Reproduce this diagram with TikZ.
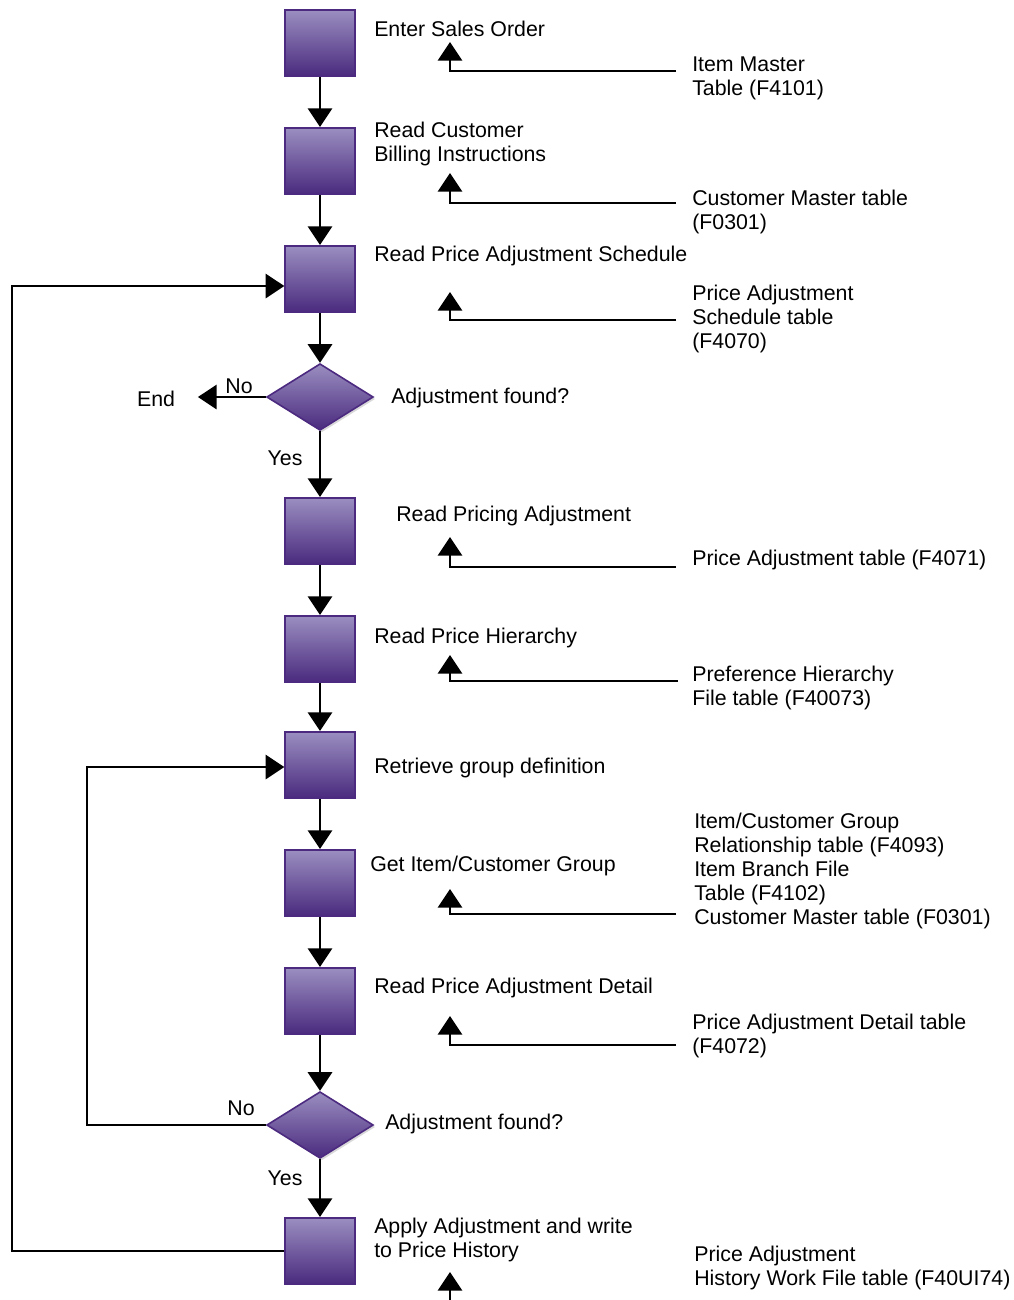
\documentclass[tikz,border=0pt]{standalone}
\usepackage{fontspec}
\setmainfont{Liberation Sans}
\usetikzlibrary{arrows.meta,shapes.geometric,shadows}
\definecolor{boxtop}{HTML}{9A8EC0}
\definecolor{boxbot}{HTML}{4A2A7E}
\definecolor{boxedge}{HTML}{4B2A80}
\begin{document}
\begin{tikzpicture}[x=0.75pt,y=-0.75pt,
  procbox/.style={draw=boxedge, line width=1.5pt, top color=boxtop, bottom color=boxbot,
    minimum width=52pt, minimum height=49.5pt, inner sep=0pt},
  decision/.style={diamond, draw=boxedge, line width=1.2pt, top color=boxtop, bottom color=boxbot,
    minimum width=80pt, minimum height=50pt, inner sep=0pt,
    drop shadow={fill=black!15, opacity=1, shadow xshift=1.5pt, shadow yshift=-1.5pt}},
  lbl/.style={font=\fontsize{16pt}{18pt}\selectfont, anchor=west, align=left, inner sep=0pt},
  small/.style={font=\fontsize{16pt}{18pt}\selectfont, inner sep=0pt},
  flow/.style={line width=2.2pt, -{Triangle[width=18pt,length=14pt]}},
  plain/.style={line width=2.2pt}
]
\useasboundingbox (0,0) rectangle (1014,1300);

% process boxes and decisions
\node[procbox] (b1) at (320,43) {};
\node[procbox] (b2) at (320,161) {};
\node[procbox] (b3) at (320,279) {};
\node[decision] (d1) at (320,397) {};
\node[procbox] (b4) at (320,531) {};
\node[procbox] (b5) at (320,649) {};
\node[procbox] (b6) at (320,765) {};
\node[procbox] (b7) at (320,883) {};
\node[procbox] (b8) at (320,1001) {};
\node[decision] (d2) at (320,1125) {};
\node[procbox] (b9) at (320,1251) {};

% step labels
\node[lbl] (l1) at (374,29) {Enter Sales Order};
\node[lbl] (l2) at (374,144) {Read Customer\\Billing Instructions};
\node[lbl] (l3) at (374,256) {Read Price Adjustment Schedule};
\node[lbl] (l4) at (391,398) {Adjustment found?};
\node[lbl] (l5) at (396,516) {Read Pricing Adjustment};
\node[lbl] (l6) at (374,638) {Read Price Hierarchy};
\node[lbl] (l7) at (374,768) {Retrieve group definition};
\node[lbl] (l8) at (370,866) {Get Item/Customer Group};
\node[lbl] (l9) at (374,988) {Read Price Adjustment Detail};
\node[lbl] (l10) at (385,1124) {Adjustment found?};
\node[lbl] (l11) at (374,1240) {Apply Adjustment and write\\to Price History};

% table labels
\node[lbl] (r1) at (692,78) {Item Master\\Table (F4101)};
\node[lbl] (r2) at (692,212) {Customer Master table\\(F0301)};
\node[lbl] (r3) at (692,319) {Price Adjustment\\Schedule table\\(F4070)};
\node[lbl] (r4) at (692,560) {Price Adjustment table (F4071)};
\node[lbl] (r5) at (692,688) {Preference Hierarchy\\File table (F40073)};
\node[lbl] (r6) at (694,871) {Item/Customer Group\\Relationship table (F4093)\\Item Branch File\\Table (F4102)\\Customer Master table (F0301)};
\node[lbl] (r7) at (692,1036) {Price Adjustment Detail table\\(F4072)};
\node[lbl] (r8) at (694,1268) {Price Adjustment\\History Work File table (F40UI74)};

% main flow
\draw[flow] (b1) -- (b2);
\draw[flow] (b2) -- (b3);
\draw[flow] (b3) -- (d1);
\draw[flow] (d1) -- (b4);
\draw[flow] (b4) -- (b5);
\draw[flow] (b5) -- (b6);
\draw[flow] (b6) -- (b7);
\draw[flow] (b7) -- (b8);
\draw[flow] (b8) -- (d2);
\draw[flow] (d2) -- (b9);

% decision labels and end
\node[small] (end) at (156,399) {End};
\node[small] (no1) at (239,386) {No};
\node[small] (yes1) at (285,458) {Yes};
\node[small] (no2) at (241,1108) {No};
\node[small] (yes2) at (285,1178) {Yes};
\draw[flow, shorten >=17pt] (d1.west) -- (d1.west -| end.east);

% loops
\coordinate (loopA) at (12,0);
\coordinate (loopB) at (87,0);
\draw[flow] (b9.west) -- (b9.west -| loopA) |- ([yshift=-5.25pt]b3.west);
\draw[flow] (d2.west) -- (d2.west -| loopB) |- ([yshift=-1.5pt]b6.west);

% table feeds
\coordinate (s1) at (676,71);   \coordinate (t1) at (450,42);
\coordinate (s2) at (676,203);  \coordinate (t2) at (450,173);
\coordinate (s3) at (676,320);  \coordinate (t3) at (450,292);
\coordinate (s4) at (676,567);  \coordinate (t4) at (450,537);
\coordinate (s5) at (678,681);  \coordinate (t5) at (450,655);
\coordinate (s6) at (676,914);  \coordinate (t6) at (450,889);
\coordinate (s7) at (676,1045); \coordinate (t7) at (450,1016);
\coordinate (s8) at (450,1300); \coordinate (t8) at (450,1272);
\draw[flow] (s1) -| (t1);
\draw[flow] (s2) -| (t2);
\draw[flow] (s3) -| (t3);
\draw[flow] (s4) -| (t4);
\draw[flow] (s5) -| (t5);
\draw[flow] (s6) -| (t6);
\draw[flow] (s7) -| (t7);
\draw[flow] (s8) -- (t8);
\end{tikzpicture}
\end{document}
